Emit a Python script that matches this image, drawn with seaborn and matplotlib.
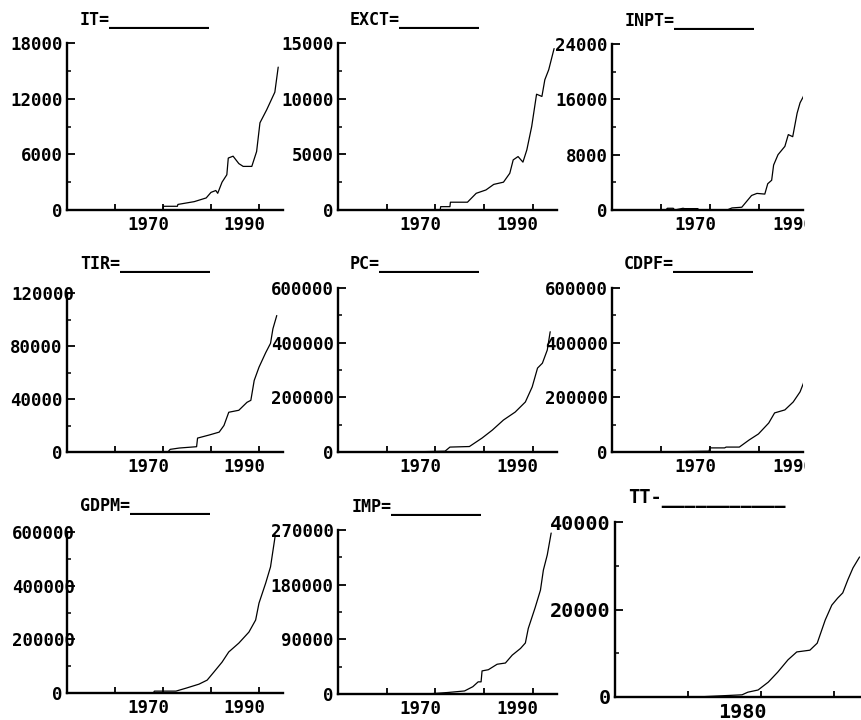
import matplotlib
matplotlib.use("Agg")
import matplotlib.pyplot as plt
import seaborn as sns
from matplotlib.ticker import FixedLocator
from matplotlib.transforms import ScaledTranslation, Bbox, TransformedBbox, blended_transform_factory

sns.set_style("ticks")
plt.rcParams['font.family'] = ['DejaVu Sans Mono']
plt.rcParams['font.weight'] = 'bold'
plt.rcParams['text.color'] = 'black'

# panel titles, as printed above each small chart
titles = ["IT=", "EXCT=", "INPT=", "TIR=", "PC=", "CDPF=", "GDPM=", "IMP=", "TT-"]

# values (year, value)
it_years = [1951, 1970, 1970.1, 1973, 1973.1, 1976.5, 1979, 1980, 1981, 1981.4, 1982.3, 1983.3,
            1983.6, 1984.6, 1985.8, 1986.7, 1988.5, 1989.5, 1990.2, 1991.6, 1993.3, 1994]
it_vals = [0, 0, 400, 400, 600, 900, 1300, 1900, 2100, 1800, 3000, 3800,
           5600, 5800, 5000, 4700, 4700, 6300, 9400, 10800, 12700, 15400]

exct_years = [1966.5, 1971, 1971.1, 1973, 1973.1, 1976.6, 1978.4, 1980.4, 1982, 1984, 1985.3,
              1986, 1987, 1988, 1988.8, 1989.8, 1990.8, 1991.9, 1992.5, 1993.3, 1994.4]
exct_vals = [0, 0, 300, 300, 700, 700, 1500, 1800, 2300, 2500, 3300,
             4500, 4800, 4300, 5400, 7500, 10400, 10200, 11700, 12600, 14500]

inpt_years = [1950, 1961, 1961.3, 1962.5, 1962.8, 1964.5, 1964.8, 1967.5, 1967.8, 1973.5, 1974.5,
              1976.5, 1978.5, 1979.6, 1981.2, 1981.8, 1982.6, 1983, 1983.9, 1985.3, 1986, 1986.9,
              1987.8, 1988.4, 1989, 1990]
inpt_vals = [0, 0, 250, 250, 0, 250, 200, 200, 0, 0, 300,
             400, 2100, 2400, 2300, 3800, 4300, 6500, 8000, 9200, 10900, 10600,
             14000, 15500, 16300, 18000]

tir_years = [1960, 1971, 1971.5, 1973.4, 1977, 1977.2, 1979.6, 1981.7, 1982.7, 1983.7, 1985.8,
             1987.5, 1988.3, 1989, 1990, 1991.4, 1992.4, 1992.9, 1993.7]
tir_vals = [0, 0, 2000, 3000, 4000, 10500, 12800, 15000, 20000, 30000, 31500,
            37500, 39000, 54000, 64000, 75000, 82000, 93000, 103000]

pc_years = [1964.4, 1972, 1973, 1977, 1979.6, 1981.7, 1984, 1986.4, 1988.5, 1989.9, 1991, 1992,
            1993, 1993.6]
pc_vals = [0, 3000, 18000, 20000, 51000, 80000, 117000, 146000, 183000, 238000, 307000, 325000,
           373000, 440000]

cdpf_years = [1958, 1969.8, 1970, 1973, 1973.3, 1976, 1978, 1979.9, 1982, 1983.2, 1985.3, 1987,
              1988.4, 1989.1, 1989.4, 1990]
cdpf_vals = [0, 3000, 15000, 15000, 18000, 18000, 44000, 66000, 106000, 143000, 154000, 183000,
             220000, 252000, 289000, 320000]

gdpm_years = [1956.8, 1968, 1968.2, 1972.7, 1974.8, 1977.5, 1979.2, 1980.6, 1982.3, 1983.7,
              1985.8, 1987.9, 1989.3, 1990, 1991.4, 1992.4, 1993.4]
gdpm_vals = [0, 0, 7000, 7000, 18000, 33000, 48000, 78000, 115000, 153000,
             186000, 227000, 272000, 335000, 410000, 470000, 589000]

imp_years = [1968.3, 1972.6, 1976, 1977.7, 1978.8, 1979.4, 1979.6, 1980.9, 1982.7, 1984.4,
             1985.8, 1987.5, 1988.5, 1989.1, 1990.5, 1991.6, 1992.2, 1993, 1993.8]
imp_vals = [0, 2500, 5000, 12000, 20000, 20000, 38000, 40000, 49000, 51000,
            64000, 75000, 84000, 108000, 142000, 171000, 204000, 229000, 265000]

tt_years = [1971.2, 1977.4, 1978.2, 1979.6, 1981, 1982.3, 1983.7, 1984.9, 1986.7, 1987.7,
            1988.8, 1989.7, 1990.5, 1991.2, 1991.9, 1992.6, 1993.5]
tt_vals = [0, 500, 1100, 1600, 3400, 5700, 8500, 10300, 10700, 12300,
           17600, 21000, 22600, 23800, 26800, 29500, 32000]

series_years = [it_years, exct_years, inpt_years, tir_years, pc_years, cdpf_years,
                gdpm_years, imp_years, tt_years]
series_vals = [it_vals, exct_vals, inpt_vals, tir_vals, pc_vals, cdpf_vals,
               gdpm_vals, imp_vals, tt_vals]

# y axis: top value and labelled step
y_tops = [18000, 15000, 24000, 120000, 600000, 600000, 600000, 270000, 40000]
y_steps = [6000, 5000, 8000, 40000, 200000, 200000, 200000, 90000, 20000]

# x axis: visible range, labelled years, unlabelled ticks
x_ranges = [(1950, 1995), (1950, 1995), (1950, 1989), (1950, 1995), (1950, 1995), (1950, 1989),
            (1950, 1995), (1950, 1995), (1960, 1993.7)]
x_labelled = [[1970, 1990]] * 8 + [[1980]]
x_minor = [[1960, 1980]] * 8 + [[1970, 1990]]

# layout in pixels: left, right, top, bottom of each axes
boxes = [(67, 283, 43, 210), (338, 557, 43, 210), (612, 803, 44, 210),
         (67, 283, 293, 452), (338, 557, 288, 452), (612, 803, 288, 452),
         (67, 283, 532, 693), (338, 557, 530, 694), (615, 861, 522, 697)]
# six-digit y labels pushed right (px) where the source lets them run over the axis
ylab_shift = [0, 0, 0, 12, 0, 0, 12, 0, 0]
# title position (x, baseline y) in pixels and underline length (chars)
title_pos = [(80, 25), (350, 25), (625, 26), (80, 269), (350, 269), (624, 269),
             (80, 511), (352, 512), (628, 503)]
underline = [10, 8, 8, 9, 10, 8, 8, 9, 11]
font_sizes = [12.5] * 8 + [14.5]
title_sizes = [12] * 8 + [13.5]

W, H = 861, 720
fig = plt.figure(figsize=(W / 100, H / 100), dpi=100)
shift = ScaledTranslation(0.06, 0, fig.dpi_scale_trans)

for i in range(9):
    l, r, t, b = boxes[i]
    ax = fig.add_axes([l / W, 1 - b / H, (r - l) / W, (b - t) / H])
    sns.lineplot(x=series_years[i], y=series_vals[i], ax=ax, color='black',
                 linewidth=0.9, estimator=None)
    ax.set_xlabel('')
    ax.set_ylabel('')
    sns.despine(ax=ax)
    for side in ['left', 'bottom']:
        ax.spines[side].set_linewidth(1.7)
        ax.spines[side].set_color('black')

    fs = font_sizes[i]
    step = y_steps[i]
    yt = [k * step for k in range(int(round(y_tops[i] / step)) + 1)]
    ax.set_yticks(yt, labels=[str(v) for v in yt])
    ax.yaxis.set_minor_locator(FixedLocator([v + step / 2 for v in yt[:-1]]))
    ax.tick_params(axis='y', which='major', direction='in', length=6, width=1.3,
                   pad=3, labelsize=fs, colors='black')
    ax.tick_params(axis='y', which='minor', direction='in', length=3, width=1.3)

    lo, hi = x_ranges[i]
    shown = [yr for yr in x_labelled[i] if yr <= hi]
    ax.set_xticks(shown, labels=[str(yr) for yr in shown])
    ax.xaxis.set_minor_locator(FixedLocator(x_minor[i]))
    ax.tick_params(axis='x', which='both', direction='in', length=4, width=1.3,
                   pad=4, labelsize=fs, colors='black')
    ax.set_xlim(lo, hi)
    ax.set_ylim(0, y_tops[i])
    for lab in ax.get_xticklabels():
        lab.set_horizontalalignment('right')
        lab.set_transform(lab.get_transform() + shift)
    if ylab_shift[i]:
        yshift = ScaledTranslation(ylab_shift[i] / 100, 0, fig.dpi_scale_trans)
        for lab in ax.get_yticklabels():
            if len(lab.get_text()) >= 6:
                lab.set_transform(lab.get_transform() + yshift)

    # labelled years past the right edge are drawn cut off, as in the source
    for yr in x_labelled[i]:
        if yr > hi:
            trans = blended_transform_factory(ax.transData, ax.transAxes) + \
                ScaledTranslation(0.06, -0.056, fig.dpi_scale_trans)
            txt = ax.text(yr, 0, str(yr), transform=trans, ha='right', va='top',
                          fontsize=fs, fontweight='bold', color='black')
            txt.set_clip_path(None)
            txt.set_clip_box(TransformedBbox(Bbox([[0, -1], [1.01, 0]]), ax.transAxes))
            txt.set_clip_on(True)

    tx, ty = title_pos[i]
    fig.text(tx / W, 1 - ty / H, titles[i] + "_" * underline[i], ha='left', va='baseline',
             fontsize=title_sizes[i], fontweight='bold', color='black')

fig.savefig("out.png", dpi=100, facecolor='white')
